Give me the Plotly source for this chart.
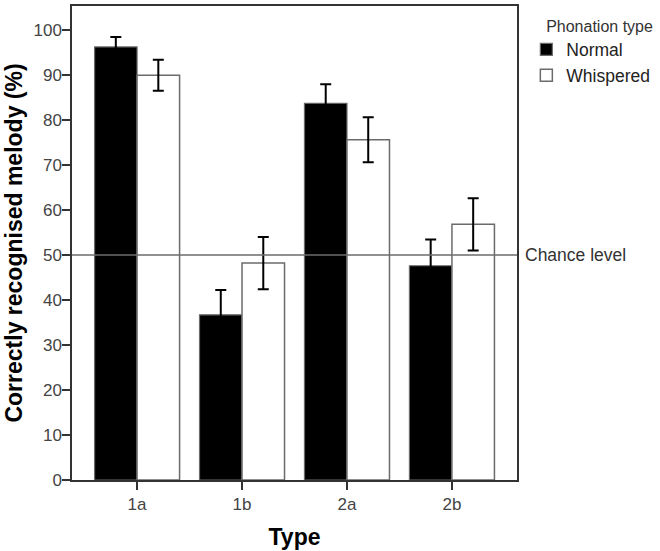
import plotly.graph_objects as go

categories = ["1a", "1b", "2a", "2b"]
normal_values = [96.2, 36.7, 83.7, 47.6]
normal_errors = [2.2, 5.5, 4.2, 5.8]
whispered_values = [89.9, 48.2, 75.6, 56.8]
whispered_errors = [3.45, 5.8, 5.0, 5.8]
chance_level = 50
y_ticks = [0, 10, 20, 30, 40, 50, 60, 70, 80, 90, 100]

FONT = "Liberation Sans, Arial, sans-serif"

fig = go.Figure()
fig.add_trace(go.Bar(
    x=categories, y=normal_values, name="Normal",
    marker=dict(color="black", line=dict(color="#6b6b6b", width=1.2)),
    error_y=dict(type="data", array=normal_errors, color="black", thickness=2, width=5.5),
))
fig.add_trace(go.Bar(
    x=categories, y=whispered_values, name="Whispered",
    marker=dict(color="white", line=dict(color="#6b6b6b", width=1.5)),
    error_y=dict(type="data", array=whispered_errors, color="black", thickness=2, width=5.5),
))

fig.add_shape(type="line", xref="paper", x0=0, x1=1, yref="y", y0=chance_level, y1=chance_level,
              line=dict(color="#6b6b6b", width=1.5), layer="above")
fig.add_annotation(text="Chance level", xref="paper", x=1.013, yref="y", y=chance_level,
                   xanchor="left", yanchor="middle", showarrow=False,
                   font=dict(family=FONT, size=17.5, color="#333333"))

fig.update_layout(
    width=660, height=551,
    margin=dict(l=72, r=143, t=6, b=71, autoexpand=False),
    paper_bgcolor="white", plot_bgcolor="white",
    barmode="group", bargap=0.19, bargroupgap=0,
    font=dict(family=FONT, color="#444444"),
    showlegend=True,
    legend=dict(
        title=dict(text="\u00a0\u00a0\u00a0\u00a0Phonation type",
                   font=dict(family=FONT, size=16, color="#333333")),
        x=1.021, xanchor="left", y=0.99, yanchor="top",
        font=dict(family=FONT, size=17.5, color="#222222"),
        bgcolor="rgba(0,0,0,0)", tracegroupgap=0,
    ),
)
fig.update_xaxes(
    type="category", range=[-0.62, 3.62], automargin=False,
    showline=True, mirror=True, linecolor="#333333", linewidth=1.5,
    ticks="outside", ticklen=8, tickcolor="#333333", tickwidth=1.5,
    ticklabelstandoff=0,
    tickfont=dict(family=FONT, size=17, color="#444444"),
    title=dict(text="<b>Type</b>", font=dict(family=FONT, size=23, color="black"), standoff=16),
    showgrid=False, zeroline=False,
)
fig.update_yaxes(
    range=[0, 105.3], tickvals=y_ticks, automargin=False,
    showline=True, mirror=True, linecolor="#333333", linewidth=1.5,
    ticks="outside", ticklen=8, tickcolor="#333333", tickwidth=1.5,
    ticklabelstandoff=-3,
    tickfont=dict(family=FONT, size=17, color="#444444"),
    title=dict(text="<b>Correctly recognised melody (%)</b>", font=dict(family=FONT, size=23, color="black"), standoff=4),
    showgrid=False, zeroline=False,
)

fig.write_html("out.html", config={"displayModeBar": False},
               post_script="document.body.style.margin='0';")
